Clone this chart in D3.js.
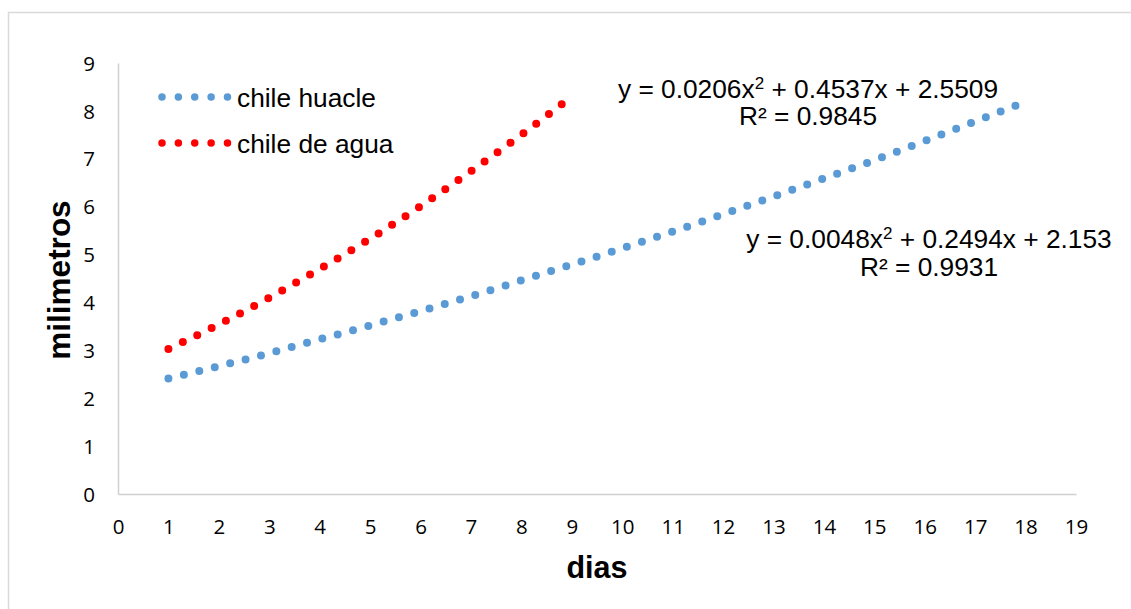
<!DOCTYPE html>
<html>
<head>
<meta charset="utf-8">
<script src="https://cdn.jsdelivr.net/npm/d3@7"></script>
<style>
  html, body { margin: 0; padding: 0; background: #fff; }
  svg { display: block; }
</style>
</head>
<body>
<svg id="chart" width="1131" height="609"></svg>
<script>
// ---- data ----
const huacleDays   = [1, 2, 3, 4, 5, 6, 7, 8, 9, 10, 11, 12, 13, 14, 15, 16, 17, 17.8];
const huacleValues = [2.41, 2.67, 2.94, 3.23, 3.52, 3.82, 4.13, 4.46, 4.79, 5.13, 5.48, 5.84, 6.21, 6.59, 6.97, 7.37, 7.78, 8.11];
const aguaDays     = [1, 2, 3, 4, 5, 6, 7, 8, 8.8];
const aguaValues   = [3.03, 3.54, 4.10, 4.70, 5.33, 6.01, 6.74, 7.50, 8.14];
const seriesNames  = ["chile huacle", "chile de agua"];
const xTicks = d3.range(0, 20);
const yTicks = d3.range(0, 10);
const eqHuacle = ["y = 0.0048x", "2", " + 0.2494x + 2.153"];
const r2Huacle = "R² = 0.9931";
const eqAgua   = ["y = 0.0206x", "2", " + 0.4537x + 2.5509"];
const r2Agua   = "R² = 0.9845";
const xTitle = "dias";
const yTitle = "milimetros";

const colors = ["#5b9bd5", "#ff0000"];
const svg = d3.select("#chart");
const arial = "'Liberation Sans', Arial, sans-serif";

// frame
svg.append("rect").attr("x", 8.5).attr("y", 12.5).attr("width", 1140).attr("height", 620)
  .attr("fill", "none").attr("stroke", "#d9d9d9").attr("stroke-width", 1.5);

const x = d3.scaleLinear().domain([0, 19]).range([118, 1076]);
const y = d3.scaleLinear().domain([0, 9]).range([494, 63]);

// axes
const xAxis = svg.append("g").attr("transform", `translate(0,${y(0)})`)
  .call(d3.axisBottom(x).tickValues(xTicks).tickSize(0).tickPadding(25).tickFormat(d3.format("d")));
const yAxis = svg.append("g").attr("transform", `translate(${x(0)},0)`)
  .call(d3.axisLeft(y).tickValues(yTicks).tickSize(0).tickPadding(23).tickFormat(d3.format("d")));
[xAxis, yAxis].forEach(g => {
  g.select(".domain").attr("stroke", "#d0d0d0").attr("stroke-width", 1.5);
  g.selectAll("text").attr("font-family", "'Open Sans', 'Noto Sans', sans-serif")
    .attr("font-size", 20.5).attr("fill", "#000");
});
yAxis.selectAll("text").attr("dy", "0.35em");

// series as dotted lines
const line = d3.line().x(d => x(d[0])).y(d => y(d[1])).curve(d3.curveMonotoneX);
const series = [
  d3.zip(huacleDays, huacleValues),
  d3.zip(aguaDays, aguaValues)
];
series.forEach((pts, i) => {
  const p = svg.append("path").datum(pts).attr("d", line)
    .attr("fill", "none").attr("stroke", colors[i]).attr("stroke-width", 8)
    .attr("stroke-linecap", "round");
  const L = p.node().getTotalLength();
  const n = Math.round(L / 16);
  p.attr("stroke-dasharray", `0 ${L / n - 0.001}`);
});

// legend
const legend = svg.append("g");
seriesNames.forEach((name, i) => {
  const ly = 97 + i * 46;
  legend.append("line").attr("x1", 162).attr("x2", 227.5).attr("y1", ly).attr("y2", ly)
    .attr("stroke", colors[i]).attr("stroke-width", 7.5).attr("stroke-linecap", "round")
    .attr("stroke-dasharray", "0 16.37");
  legend.append("text").attr("x", 237).attr("y", ly + 10)
    .attr("font-family", arial).attr("font-size", 26.3)
    .attr("fill", "#000").text(name);
});

// trendline equations
function equation(parts, r2, cx, y1, y2) {
  const t = svg.append("text").attr("x", cx).attr("y", y1).attr("text-anchor", "middle")
    .attr("font-family", arial).attr("font-size", 26.3).attr("fill", "#000");
  t.append("tspan").text(parts[0]);
  t.append("tspan").attr("font-size", 17).attr("dy", -9.5).text(parts[1]);
  t.append("tspan").attr("dy", 9.5).text(parts[2]);
  svg.append("text").attr("x", cx).attr("y", y2).attr("text-anchor", "middle")
    .attr("font-family", arial).attr("font-size", 26.3)
    .attr("fill", "#000").text(r2);
}
equation(eqAgua, r2Agua, 808, 98, 125);
equation(eqHuacle, r2Huacle, 929, 248, 276);

// axis titles
svg.append("text").attr("x", 597).attr("y", 578).attr("text-anchor", "middle")
  .attr("font-family", arial).attr("font-weight", "bold")
  .attr("font-size", 30.5).attr("fill", "#000").text(xTitle);
svg.append("text").attr("transform", "translate(70,280) rotate(-90)").attr("text-anchor", "middle")
  .attr("font-family", arial).attr("font-weight", "bold")
  .attr("font-size", 31.5).attr("fill", "#000").text(yTitle);
</script>
</body>
</html>
